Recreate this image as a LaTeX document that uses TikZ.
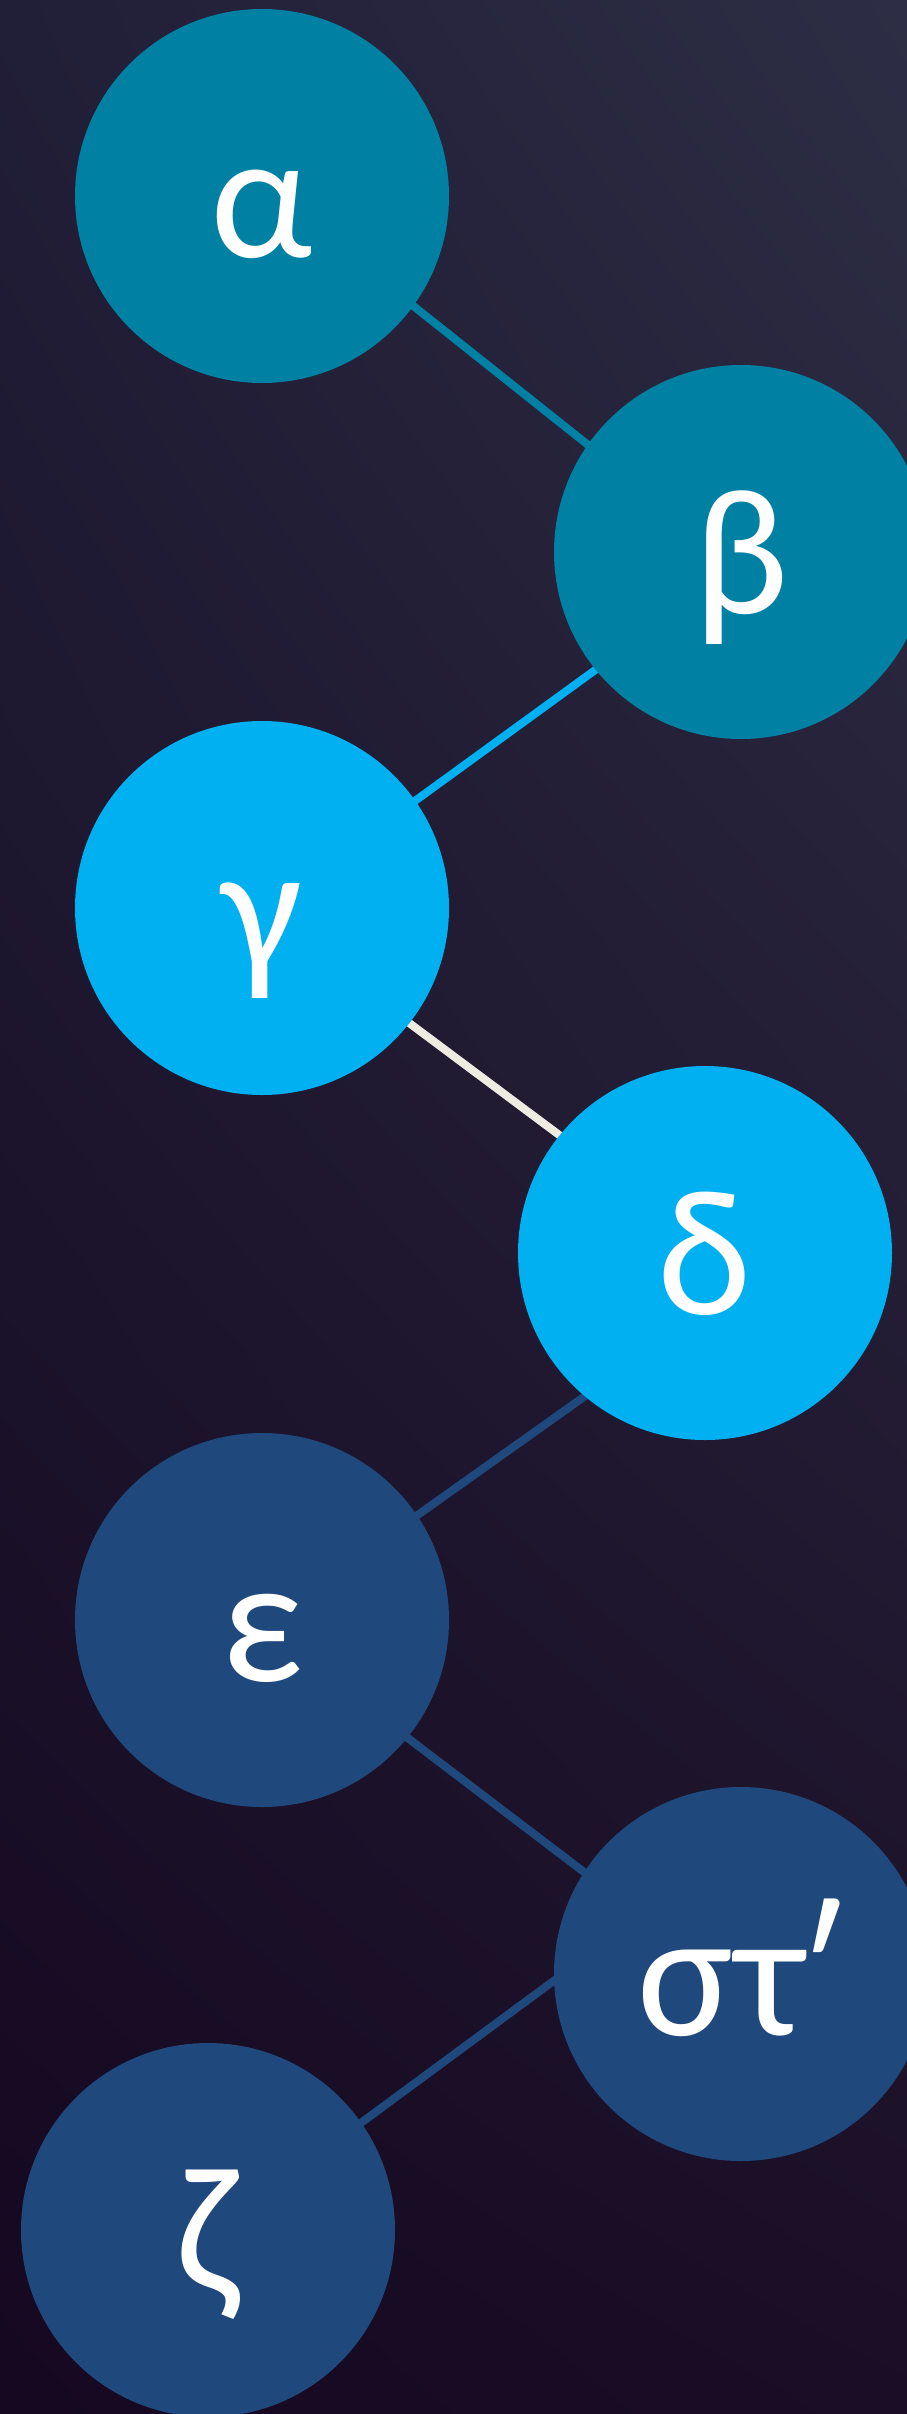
\documentclass[tikz,border=0pt]{standalone}
\usepackage{fontspec}
\setmainfont{Carlito}
\definecolor{bgtopleft}{RGB}{33, 30, 55}
\definecolor{bgtopright}{RGB}{45, 46, 69}
\definecolor{bgbotleft}{RGB}{21, 8, 32}
\definecolor{bgbotright}{RGB}{26, 14, 38}
\definecolor{tealdisc}{RGB}{0, 128, 163}
\definecolor{cyandisc}{RGB}{0, 176, 240}
\definecolor{navydisc}{RGB}{31, 73, 125}
\definecolor{paleline}{RGB}{238, 236, 225}
\usetikzlibrary{positioning, shadings, backgrounds}
\pgfdeclarelayer{backdrop}
\pgfsetlayers{backdrop,background,main}

\begin{document}
\begin{tikzpicture}[
    x=1pt, y=1pt, on grid,
    greekdisc/.style={
        circle, fill=#1, minimum size=374pt, inner sep=0pt, outer sep=0pt,
        text=white, font=\fontsize{180}{180}\selectfont, text height=122pt, text depth=0pt
    },
    linkline/.style={
        line width=8pt, draw=#1, shorten <=-20pt, shorten >=-20pt
    }
]

% Background
\useasboundingbox (0,0) rectangle (907,-2414);
\clip (0,0) rectangle (907,-2414);
\begin{pgfonlayer}{backdrop}
\shade[upper left=bgtopleft, upper right=bgtopright, lower left=bgbotleft, lower right=bgbotright] (0,0) rectangle (907,-2414);
\end{pgfonlayer}

% Nodes
\node[greekdisc=tealdisc] (alpha) at (262,-196) {α};
\node[greekdisc=tealdisc, below right=356pt and 479pt of alpha] (beta) {β};
\node[greekdisc=cyandisc, below left=356pt and 479pt of beta] (gamma) {γ};
\node[greekdisc=cyandisc, below right=345pt and 443pt of gamma] (delta) {δ};
\node[greekdisc=navydisc, below left=367pt and 443pt of delta] (epsilon) {ε};
\node[greekdisc=navydisc, below right=354pt and 479pt of epsilon] (sixth) {στʹ};
\node[greekdisc=navydisc, below left=256pt and 533pt of sixth] (zeta) {ζ};

% Connections
\begin{scope}[on background layer]
\draw[linkline=tealdisc] (alpha.-36.9) -- (beta.145);
\draw[linkline=cyandisc] (beta.219) -- (gamma.35.4);
\draw[linkline=paleline] (gamma.-38.7) -- (delta.141.9);
\draw[linkline=navydisc] (delta.230) -- (epsilon.34.8);
\draw[linkline=navydisc] (epsilon.-39.2) -- (sixth.147.3);
\draw[linkline=navydisc] (sixth.182.8) -- (zeta.35.3);
\end{scope}

\end{tikzpicture}
\end{document}
